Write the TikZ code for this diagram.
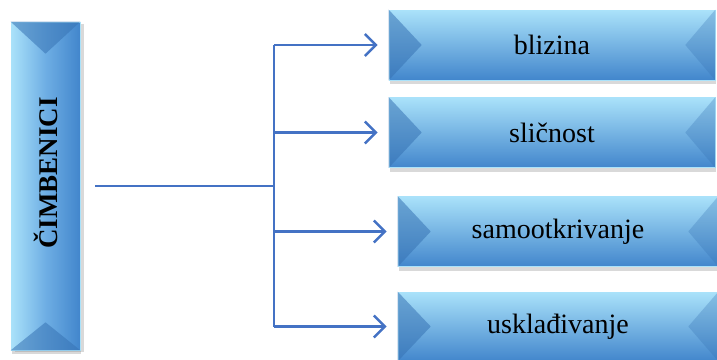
\documentclass[tikz,border=0pt]{standalone}
\usepackage{graphicx}
\usepackage{fontspec}
\setmainfont{Liberation Serif}
\newfontfamily\timesfont{Liberation Serif}
\usetikzlibrary{arrows.meta,shadows,calc}

\definecolor{linkblue}{RGB}{68,114,196}
\definecolor{boxtop}{RGB}{170,226,250}
\definecolor{boxmid}{RGB}{110,174,228}
\definecolor{boxbot}{RGB}{66,134,204}
\definecolor{bevel}{RGB}{55,115,180}

\tikzset{
  factor/.style={rectangle,draw=boxtop,line width=0.6pt,inner sep=0pt,
    top color=boxtop,middle color=boxmid,bottom color=boxbot,
    minimum width=326pt,minimum height=70pt,
    drop shadow={opacity=0.3,shadow xshift=1pt,shadow yshift=-4pt},
    font=\timesfont\fontsize{28}{30}\selectfont},
  link/.style={linkblue,line width=2.6pt},
  arr/.style={link,-{Straight Barb[length=11pt,width=22pt,line width=2.6pt]},shorten >=11pt},
}

\begin{document}
\begin{tikzpicture}[x=1pt,y=-1pt]
\useasboundingbox (0,0) rectangle (717,359);
\clip (0,0) rectangle (717,359);
\node [factor,minimum width=69pt,minimum height=328pt,
  left color=boxtop,right color=boxbot,middle color=boxmid,
  drop shadow={opacity=0.3,shadow xshift=4pt,shadow yshift=-2pt},
  font=\timesfont\fontsize{27}{29}\selectfont\bfseries] (cimb) at (45.5,186)
  {\rotatebox{90}{\hspace{26pt}ČIMBENICI}\hspace{12pt}};
\node [factor] (b1) at (552,45) {blizina};
\node [factor] (b2) at (552,132.5) {sličnost};
\node [factor,minimum width=320pt] (b3) at (558,231.5) {samootkrivanje};
\node [factor,minimum width=320pt,minimum height=69pt] (b4) at (558,326.5) {usklađivanje};
% bevel edges
\fill [bevel,opacity=0.55] (cimb.north west) -- ($(cimb.north)!32pt!(cimb.south)$) -- (cimb.north east) -- cycle;
\fill [bevel,opacity=0.55] (cimb.south west) -- ($(cimb.south)!28pt!(cimb.north)$) -- (cimb.south east) -- cycle;
\foreach \b in {b1,b2,b3,b4}{
  \fill [bevel,opacity=0.55] (\b.north west) -- ($(\b.west)!33pt!(\b.east)$) -- (\b.south west) -- cycle;
  \fill [bevel,opacity=0.3] (\b.north east) -- ($(\b.east)!30pt!(\b.west)$) -- (\b.south east) -- cycle;
}
\coordinate (trunk) at (274,0);
\draw [link,shorten <=15pt] (cimb.east) -- (cimb.east -| trunk);
\draw [link] (b1.west -| trunk) -- (b4.west -| trunk);
\foreach \b in {b1,b2,b3,b4}
  \draw [arr] (\b.west -| trunk) -- (\b.west);
\end{tikzpicture}
\end{document}
